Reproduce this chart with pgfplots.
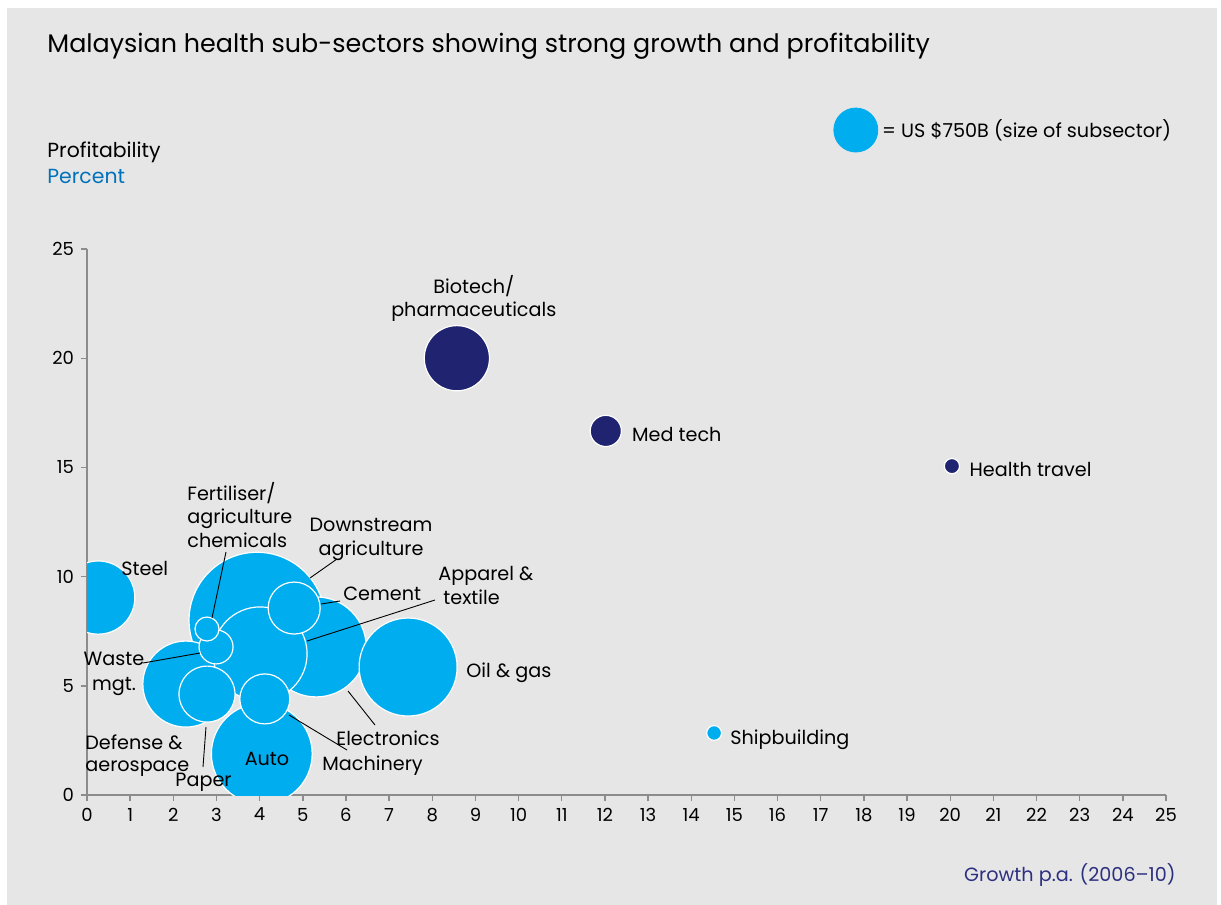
\documentclass[border=0pt]{standalone}
\usepackage{fontspec}
\setmainfont{Poppins}
\usepackage{pgfplots}
\pgfplotsset{compat=1.18}
\usepackage{pgfplotstable}

\definecolor{lb}{RGB}{0,174,239}
\definecolor{nv}{RGB}{31,35,112}
\definecolor{bg}{RGB}{230,230,230}
\definecolor{pc}{RGB}{0,114,188}
\definecolor{gr}{RGB}{45,48,128}
\definecolor{axc}{RGB}{140,140,140}

% x = growth, y = profitability, r = bubble radius (pt)
\pgfplotstableread{
x y r
3.94 8.00 34
5.31 6.78 25
2.29 5.08 21.5
4.01 6.46 23.5
4.80 8.56 13
4.05 1.89 25.2
2.78 4.62 14
4.12 4.40 12.5
2.99 6.78 8.5
2.78 7.60 6
7.44 5.86 24.5
0.26 9.04 18.3
14.53 2.84 3.7
}\lightdata

\pgfplotstableread{
x y r
8.57 20.00 16.3
12.02 16.67 7.8
20.04 15.06 3.8
}\darkdata

\newcommand\lf{\fontsize{9.6}{12}\selectfont}

\begin{document}
\begin{tikzpicture}
\useasboundingbox (0,0) rectangle (610.5pt,-452.5pt);
\fill[white] (0,0) rectangle (610.5pt,-452.5pt);
\fill[bg] (3.5pt,-4pt) rectangle (608.5pt,-452.5pt);

\begin{axis}[
  at={(43.5pt,-397.5pt)}, anchor=south west,
  scale only axis, width=539.5pt, height=273pt,
  xmin=0, xmax=25, ymin=0, ymax=25,
  axis x line*=bottom, axis y line*=left,
  axis line style={axc, line width=0.7pt, -},
  xtick={0,1,...,25}, ytick={0,5,...,25},
  tick align=outside, major tick length=3pt,
  tick style={axc, line width=0.7pt},
  /pgf/number format/assume math mode=true,
  ticklabel style={font=\fontsize{9}{10}\selectfont, text=black},
  clip marker paths=true,
  legend style={draw=none, fill=none, at={(axis description cs:0.6914,1.2179)}, anchor=west,
    font=\lf, inner sep=0pt, legend cell align=left},
]
\addlegendimage{legend image code/.code={\fill[lb] (11pt,0pt) circle (11pt);}}
\addlegendentry{= US \$750B (size of subsector)}

\addplot[scatter, only marks, mark=*, forget plot, line width=0.6pt,
  scatter/use mapped color={draw=white, fill=lb},
  visualization depends on={\thisrow{r} \as \rad},
  scatter/@pre marker code/.append style={/tikz/mark size=\rad}]
  table[x=x, y=y] {\lightdata};

\addplot[scatter, only marks, mark=*, forget plot, line width=0.6pt,
  scatter/use mapped color={draw=white, fill=nv},
  visualization depends on={\thisrow{r} \as \rad},
  scatter/@pre marker code/.append style={/tikz/mark size=\rad}]
  table[x=x, y=y] {\darkdata};
\end{axis}

\begin{scope}[x=0.5pt, y=-0.5pt, every node/.style={inner sep=0pt, font=\lf}]
% leader lines
\draw[black, line width=0.45pt] (226,552) -- (212,618);
\draw[black, line width=0.45pt] (337,559) -- (310,578);
\draw[black, line width=0.45pt] (340,601) -- (321,604);
\draw[black, line width=0.45pt] (435,600) -- (307,641);
\draw[black, line width=0.45pt] (143,663) -- (200,653);
\draw[black, line width=0.45pt] (375,725) -- (348,691);
\draw[black, line width=0.45pt] (347,750) -- (289,715);
\draw[black, line width=0.45pt] (203,767) -- (206,727);

% labels
\node[anchor=base west] at (121,575) {Steel};
\node[anchor=base west] at (187,500.7) {Fertiliser/};
\node[anchor=base west] at (187,523.5) {agriculture};
\node[anchor=base west] at (187,547) {chemicals};
\node[anchor=base] at (371,531.7) {Downstream};
\node[anchor=base] at (371,555) {agriculture};
\node[anchor=base west] at (343,600.7) {Cement};
\node[anchor=base west] at (438,580.7) {Apparel \&};
\node[anchor=base west] at (443,604) {textile};
\node[anchor=base west] at (466,677) {Oil \& gas};
\node[anchor=base] at (114,665) {Waste};
\node[anchor=base] at (114,690) {mgt.};
\node[anchor=base west] at (85,749) {Defense \&};
\node[anchor=base west] at (85,771.7) {aerospace};
\node[anchor=base] at (203.5,786.7) {Paper};
\node[anchor=base] at (267,765.7) {Auto};
\node[anchor=base west] at (336,745.3) {Electronics};
\node[anchor=base west] at (322,770) {Machinery};
\node[anchor=base] at (473.8,293.3) {Biotech/};
\node[anchor=base] at (473.8,316.7) {pharmaceuticals};
\node[anchor=base west] at (631.7,441.7) {Med tech};
\node[anchor=base west] at (969.3,476.7) {Health travel};
\node[anchor=base west] at (730,744) {Shipbuilding};

% titles
\node[anchor=base west, font=\fontsize{12.7}{15}\selectfont] at (47,52) {Malaysian health sub-sectors showing strong growth and profitability};
\node[anchor=base west, font=\fontsize{10.2}{12}\selectfont] at (47,157) {Profitability};
\node[anchor=base west, font=\fontsize{10.2}{12}\selectfont, text=pc] at (47,183) {Percent};
\node[anchor=base east, font=\fontsize{9.6}{12}\selectfont, text=gr] at (1176,881) {Growth p.a. (2006--10)};
\end{scope}
\end{tikzpicture}
\end{document}
